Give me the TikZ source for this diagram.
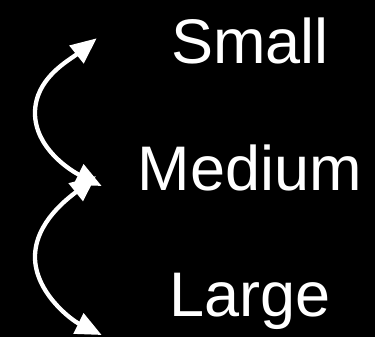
\documentclass[tikz,border=0pt]{standalone}
\usepackage{fontspec}
\setmainfont{Liberation Sans}
\usetikzlibrary{arrows.meta}
\begin{document}
\begin{tikzpicture}[x=1pt,y=-1pt,
  lbl/.style={text=white,inner sep=0pt,anchor=base,font=\fontsize{63}{75}\selectfont},
  conn/.style={draw=white,line width=4.3pt,{Triangle[length=26pt,width=22pt]}-{Triangle[length=26pt,width=22pt]}}]
\fill[black] (0,0) rectangle (375,337);
\useasboundingbox (0,0) rectangle (375,337);
\node[lbl] (small) at (250,64) {Small};
\node[lbl] (medium) at (250,190) {Medium};
\node[lbl] (large) at (250,316) {Large};
\coordinate (st) at (96.7,38.3);
\coordinate (mt1) at (101.7,186);
\coordinate (mt2) at (96,176);
\coordinate (lt) at (101.7,335);
\coordinate (l1) at (35,113);
\coordinate (l2) at (35,257);
\path[conn] (st) .. controls (69.4,60.2) and (35,78) .. (l1)
  .. controls (35,148) and (70.3,170.4) .. (mt1);
\path[conn] (mt2) .. controls (68.7,197.9) and (35,222) .. (l2)
  .. controls (35,292) and (70.3,319.4) .. (lt);
\end{tikzpicture}
\end{document}
